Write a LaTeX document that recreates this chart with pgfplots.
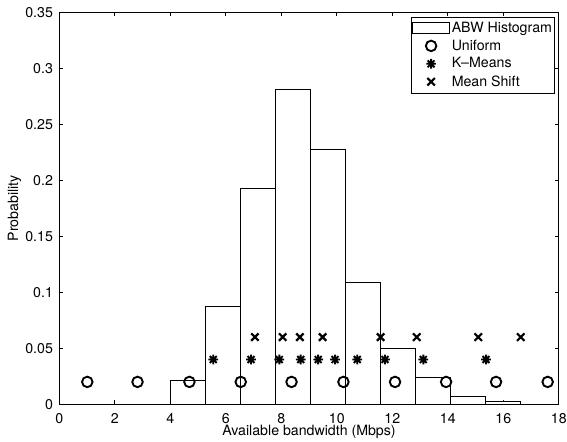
\documentclass[border=0pt]{standalone}
\usepackage{fontspec}
\setmainfont{TeX Gyre Heros}
\usepackage{pgfplots}
\pgfplotsset{compat=1.18}
\pgfdeclareplotmark{mstar}{%
 \pgfpathmoveto{\pgfqpoint{-\pgfplotmarksize}{0pt}}\pgfpathlineto{\pgfqpoint{\pgfplotmarksize}{0pt}}%
 \pgfpathmoveto{\pgfqpoint{0pt}{-\pgfplotmarksize}}\pgfpathlineto{\pgfqpoint{0pt}{\pgfplotmarksize}}%
 \pgfpathmoveto{\pgfqpoint{-.7071\pgfplotmarksize}{-.7071\pgfplotmarksize}}\pgfpathlineto{\pgfqpoint{.7071\pgfplotmarksize}{.7071\pgfplotmarksize}}%
 \pgfpathmoveto{\pgfqpoint{-.7071\pgfplotmarksize}{.7071\pgfplotmarksize}}\pgfpathlineto{\pgfqpoint{.7071\pgfplotmarksize}{-.7071\pgfplotmarksize}}%
 \pgfusepathqstroke}
\pgfplotsset{
  marklegend/.style={legend image code/.code={\path[draw=none,fill=none] (0pt,0pt) -- (27pt,0pt); \draw[##1] plot[only marks] coordinates {(13.5pt,0pt)};}},
  histlegend/.style={legend image code/.code={\draw[black, line width=0.6pt, fill=white] (0pt,-3.9pt) rectangle (27pt,3.9pt);}},
}
\begin{document}
\fontsize{10.5}{12.6}\selectfont
\begin{tikzpicture}
\begin{axis}[
  name=ax,
  scale only axis,
  width=370pt, height=290.4pt,
  xmin=0, xmax=18, ymin=0, ymax=0.35,
  xtick={0,2,4,6,8,10,12,14,16,18},
  ytick={0,0.05,0.1,0.15,0.2,0.25,0.3,0.35},
  scaled y ticks=false,
  yticklabel style={/pgf/number format/fixed,/pgf/number format/precision=2, xshift=-1pt},
  xticklabel style={yshift=-3pt},
  /pgf/number format/assume math mode=true,
  tick align=inside,
  major tick length=3pt,
  axis line style={line width=0.9pt},
  every tick/.style={black, line width=0.5pt},
  xlabel={Available bandwidth (Mbps)},
  ylabel={Probability},
  every axis x label/.style={at={(axis description cs:0.5,-0.0706)}, anchor=center},
  every axis y label/.style={at={(axis description cs:-0.0897,0.5)}, rotate=90, anchor=center},
  legend style={at={(rel axis cs:1,1)}, anchor=north east, xshift=-2.8pt, yshift=-3.3pt,
    draw=black, line width=0.5pt, inner xsep=0.5pt, inner ysep=1.5pt,
    nodes={inner ysep=2pt, inner xsep=1.5pt, text depth=0.15em}, cells={anchor=west}},
]
\addplot[ybar interval, fill=white, draw=black, line width=0.6pt, histlegend]
  coordinates {(4.00,0.021)(5.26,0.087)(6.52,0.1925)(7.78,0.281)(9.04,0.228)(10.30,0.109)(11.56,0.050)(12.82,0.024)(14.08,0.007)(15.34,0.003)(16.60,0.003)};
\addlegendentry{ABW Histogram}
\addplot[only marks, mark=o, mark size=3.9pt, black, mark options={line width=1.4pt, solid}, marklegend]
  coordinates {(1.01,0.02)(2.82,0.02)(4.69,0.02)(6.54,0.02)(8.37,0.02)(10.24,0.02)(12.10,0.02)(13.94,0.02)(15.74,0.02)(17.60,0.02)};
\addlegendentry{Uniform}
\addplot[only marks, mark=mstar, mark size=3.6pt, black, mark options={line width=1.4pt, solid}, marklegend]
  coordinates {(5.55,0.04)(6.91,0.04)(7.93,0.04)(8.70,0.04)(9.33,0.04)(9.94,0.04)(10.74,0.04)(11.74,0.04)(13.12,0.04)(15.38,0.04)};
\addlegendentry{K--Means}
\addplot[only marks, mark=x, mark size=3.9pt, black, mark options={line width=1.6pt, solid}, marklegend]
  coordinates {(7.05,0.06)(8.05,0.06)(8.67,0.06)(9.49,0.06)(11.58,0.06)(12.88,0.06)(15.10,0.06)(16.63,0.06)};
\addlegendentry{Mean Shift}
\end{axis}
\pgfresetboundingbox
\path ([xshift=-43.9pt,yshift=-27.2pt]ax.south west) rectangle ([xshift=6.1pt,yshift=9.1pt]ax.north east);
\end{tikzpicture}
\end{document}
